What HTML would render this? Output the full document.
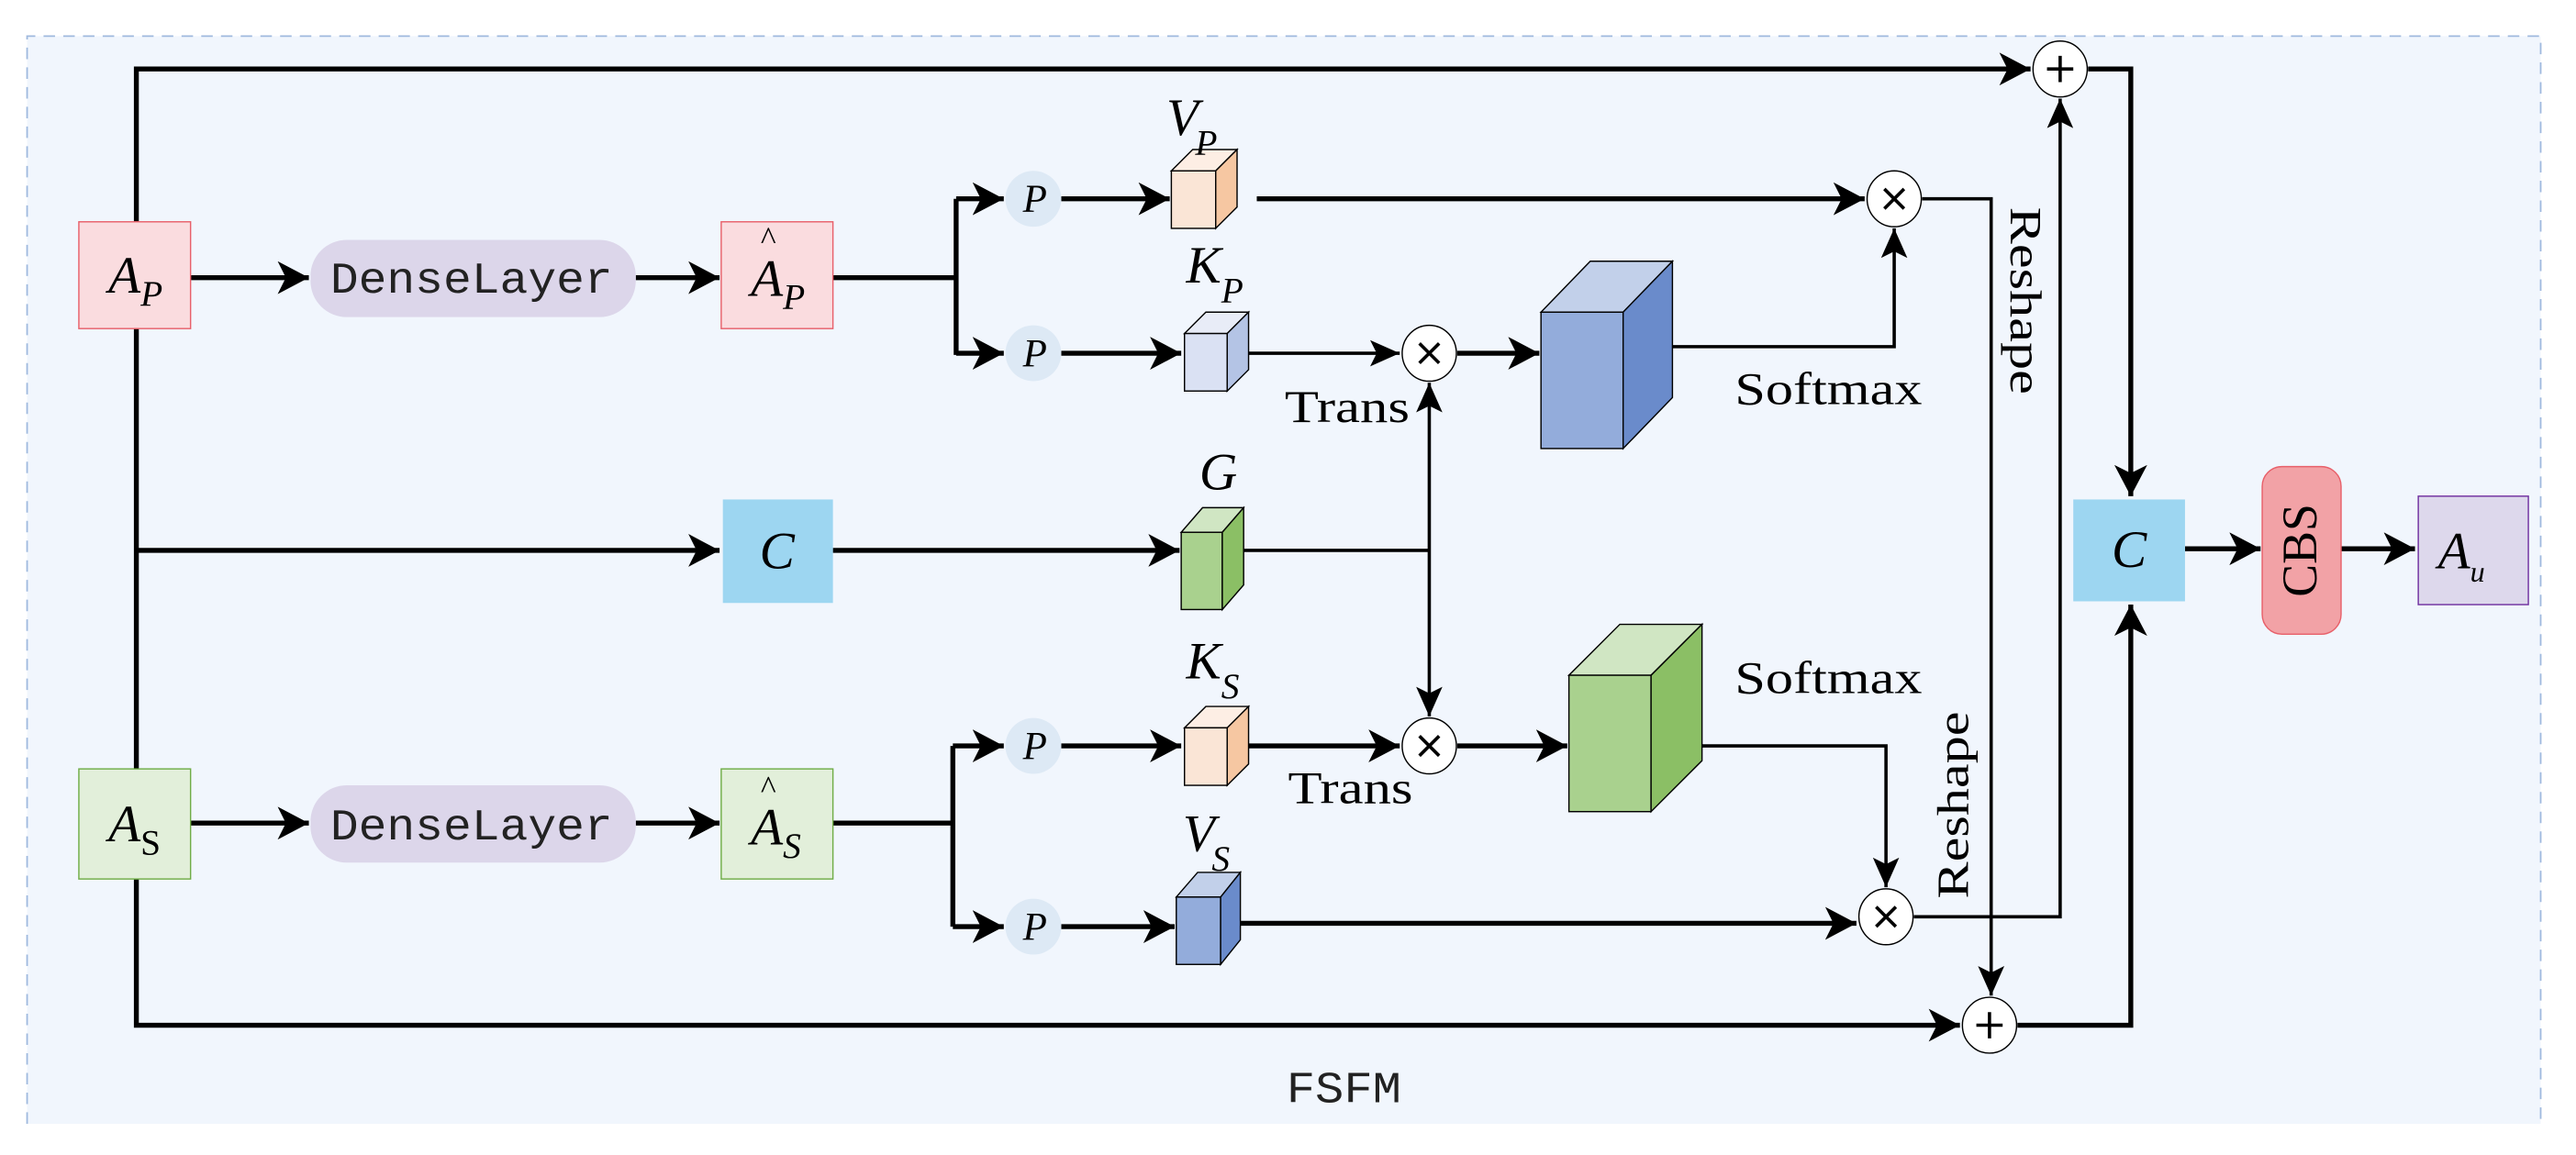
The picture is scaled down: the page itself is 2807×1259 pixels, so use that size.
<!DOCTYPE html>
<html><head><meta charset="utf-8"><style>html,body{margin:0;padding:0;background:#fff}svg{display:block}
.s{font-family:"Liberation Serif","Times New Roman",serif}
.m{font-family:"Liberation Mono","Courier New",monospace}
</style></head>
<body>
<svg xmlns="http://www.w3.org/2000/svg" width="2807" height="1259" viewBox="0 0 1568 703" preserveAspectRatio="none">
<defs>
<marker id="a" markerUnits="userSpaceOnUse" markerWidth="20" markerHeight="20" refX="19" refY="10" orient="auto"><path d="M0,0 L19,10 L0,20 L5,10 z" fill="#000"/></marker>
<marker id="b" markerUnits="userSpaceOnUse" markerWidth="18" markerHeight="16" refX="18" refY="8" orient="auto"><path d="M0,0 L18,8 L0,16 L4,8 z" fill="#000"/></marker>
</defs>
<rect x="0" y="0" width="1568" height="703" fill="#fff"/>
<rect x="16.5" y="22" width="1530" height="662" fill="#f1f6fd"/>
<path d="M16.5,684 V22 H1546.5 V684" fill="none" stroke="#9fb9de" stroke-width="1" stroke-dasharray="7,5"/>

<g fill="none" stroke="#000" stroke-width="3">
<path d="M83,135 V42 H1236" marker-end="url(#a)"/>
<path d="M1271,42 H1297 V302" marker-end="url(#a)"/>
<path d="M83,200 V468"/>
<path d="M83,335 H438" marker-end="url(#a)"/>
<path d="M83,535 V624 H1193" marker-end="url(#a)"/>
<path d="M116,169 H188" marker-end="url(#a)"/>
<path d="M387,169 H438" marker-end="url(#a)"/>
<path d="M116,501 H188" marker-end="url(#a)"/>
<path d="M387,501 H438" marker-end="url(#a)"/>
<path d="M507,169 H582 M582,121 V216"/>
<path d="M582,121 H611" marker-end="url(#a)"/>
<path d="M582,215 H611" marker-end="url(#a)"/>
<path d="M646,121 H712" marker-end="url(#a)"/>
<path d="M646,215 H719" marker-end="url(#a)"/>
<path d="M765,121 H1135" marker-end="url(#a)"/>
<path d="M887,215 H937" marker-end="url(#a)"/>
<path d="M507,335 H718" marker-end="url(#a)"/>
<path d="M507,501 H580 M580,454 V564"/>
<path d="M580,454 H611" marker-end="url(#a)"/>
<path d="M580,564 H611" marker-end="url(#a)"/>
<path d="M646,454 H719" marker-end="url(#a)"/>
<path d="M646,564 H715" marker-end="url(#a)"/>
<path d="M760,454 H852" marker-end="url(#a)"/>
<path d="M887,454 H954" marker-end="url(#a)"/>
<path d="M755,562 H1130" marker-end="url(#a)"/>
<path d="M1228,624 H1297 V368" marker-end="url(#a)"/>
<path d="M1330,334 H1376" marker-end="url(#a)"/>
<path d="M1425,334 H1470" marker-end="url(#a)"/>
</g>
<g fill="none" stroke="#000" stroke-width="2">
<path d="M760,215 H852" marker-end="url(#b)"/>
<path d="M1018,211 H1153 V139" marker-end="url(#b)"/>
<path d="M1170,121 H1212 V606" marker-end="url(#b)"/>
<path d="M757,335 H870"/>
<path d="M870,335 V233" marker-end="url(#b)"/>
<path d="M870,335 V436" marker-end="url(#b)"/>
<path d="M1036,454 H1148 V540" marker-end="url(#b)"/>
<path d="M1165,558 H1254 V60" marker-end="url(#b)"/>
</g>

<g stroke="#000" stroke-width="0.8" fill="#fff">
<ellipse cx="1254" cy="42" rx="16.5" ry="17"/>
<ellipse cx="1211" cy="624" rx="16.5" ry="17"/>
<ellipse cx="1153" cy="121" rx="16.5" ry="17"/>
<ellipse cx="870" cy="215" rx="16.5" ry="17"/>
<ellipse cx="870" cy="454" rx="16.5" ry="17"/>
<ellipse cx="1148" cy="558" rx="16.5" ry="17"/>
</g>
<g stroke="#000" stroke-width="2">
<path d="M1254,34 V50 M1246,42 H1262"/>
<path d="M1211,616 V632 M1203,624 H1219"/>
<path d="M1147,115 L1159,127 M1159,115 L1147,127"/>
<path d="M864,209 L876,221 M876,209 L864,221"/>
<path d="M864,448 L876,460 M876,448 L864,460"/>
<path d="M1142,552 L1154,564 M1154,552 L1142,564"/>
</g>

<g fill="#dde9f5">
<ellipse cx="629" cy="121" rx="17" ry="17"/>
<ellipse cx="629" cy="215" rx="17" ry="17"/>
<ellipse cx="629" cy="454" rx="17" ry="17"/>
<ellipse cx="629" cy="564" rx="17" ry="17"/>
</g>
<g class="s" font-style="italic" font-size="24" text-anchor="middle">
<text x="630" y="129">P</text><text x="630" y="223">P</text><text x="630" y="462">P</text><text x="630" y="572">P</text>
</g>

<rect x="48" y="135" width="68" height="65" fill="#fadcdf" stroke="#e8606a" stroke-width="0.8"/>
<rect x="439" y="135" width="68" height="65" fill="#fadcdf" stroke="#e8606a" stroke-width="0.8"/>
<rect x="48" y="468" width="68" height="67" fill="#e2efda" stroke="#70ad47" stroke-width="0.8"/>
<rect x="439" y="468" width="68" height="67" fill="#e2efda" stroke="#70ad47" stroke-width="0.8"/>
<rect x="189" y="146" width="198" height="47" rx="22" fill="#dcd6ea"/>
<rect x="189" y="478" width="198" height="47" rx="22" fill="#dcd6ea"/>
<rect x="440" y="304" width="67" height="63" fill="#9dd6f1"/>
<rect x="1262" y="304" width="68" height="62" fill="#9dd6f1"/>
<rect x="1377" y="284" width="48" height="102" rx="12" fill="#f2a2a6" stroke="#e8606a" stroke-width="0.8"/>
<rect x="1472" y="302" width="67" height="66" fill="#ddd8ec" stroke="#7030a0" stroke-width="0.8"/>

<g stroke="#000" stroke-width="0.8">
<path d="M713,104 L726,91 L753,91 L740,104 Z" fill="#fdeee4"/><rect x="713" y="104" width="27" height="35" fill="#fae5d6"/><path d="M740,104 L753,91 L753,126 L740,139 Z" fill="#f6c7a2"/>
<path d="M721,203 L734,190 L760,190 L747,203 Z" fill="#e8ecf7"/><rect x="721" y="203" width="26" height="35" fill="#dae1f3"/><path d="M747,203 L760,190 L760,225 L747,238 Z" fill="#b4c4e5"/>
<path d="M719,324 L732,309 L757,309 L744,324 Z" fill="#d0e6c3"/><rect x="719" y="324" width="25" height="47" fill="#a9d18e"/><path d="M744,324 L757,309 L757,356 L744,371 Z" fill="#8bbf65"/>
<path d="M721,443 L734,430 L760,430 L747,443 Z" fill="#fdeee4"/><rect x="721" y="443" width="26" height="35" fill="#fae5d6"/><path d="M747,443 L760,430 L760,465 L747,478 Z" fill="#f6c7a2"/>
<path d="M716,546 L729,531 L755,531 L743,546 Z" fill="#c2d0ea"/><rect x="716" y="546" width="27" height="41" fill="#93acdb"/><path d="M743,546 L755,531 L755,572 L743,587 Z" fill="#6a8bcb"/>
<path d="M938,190 L968,159 L1018,159 L988,190 Z" fill="#c2d0ea"/><rect x="938" y="190" width="50" height="83" fill="#93acdb"/><path d="M988,190 L1018,159 L1018,242 L988,273 Z" fill="#6a8bcb"/>
<path d="M955,411 L986,380 L1036,380 L1005,411 Z" fill="#d0e6c3"/><rect x="955" y="411" width="50" height="83" fill="#a9d18e"/><path d="M1005,411 L1036,380 L1036,463 L1005,494 Z" fill="#8bbf65"/>
</g>

<g class="s" font-style="italic" fill="#000">
<text x="66" y="178" font-size="32">A<tspan font-size="22" dy="8">P</tspan></text>
<text x="457" y="180" font-size="32">A<tspan font-size="22" dy="8">P</tspan></text>
<text x="463" y="152" font-size="20" font-style="normal">^</text>
<text x="66" y="512" font-size="32">A<tspan font-size="22" dy="8" font-style="normal">S</tspan></text>
<text x="457" y="514" font-size="32">A<tspan font-size="22" dy="8">S</tspan></text>
<text x="463" y="486" font-size="20" font-style="normal">^</text>
<text x="473" y="346" font-size="32" text-anchor="middle">C</text>
<text x="1296" y="345" font-size="32" text-anchor="middle">C</text>
<text x="1484" y="346" font-size="32">A<tspan font-size="18" dy="8">u</tspan></text>
<text x="710" y="82" font-size="32">V<tspan font-size="22" dy="12" dx="-2">P</tspan></text>
<text x="722" y="172" font-size="32">K<tspan font-size="22" dy="12">P</tspan></text>
<text x="730" y="298" font-size="32">G</text>
<text x="722" y="413" font-size="32">K<tspan font-size="22" dy="12">S</tspan></text>
<text x="720" y="518" font-size="32">V<tspan font-size="22" dy="12" dx="-2">S</tspan></text>
</g>
<g class="s" fill="#000" font-size="28">
<text x="1056" y="246" textLength="114" lengthAdjust="spacingAndGlyphs">Softmax</text>
<text x="1056" y="422" textLength="114" lengthAdjust="spacingAndGlyphs">Softmax</text>
<text x="782" y="257" textLength="76" lengthAdjust="spacingAndGlyphs">Trans</text>
<text x="784" y="489" textLength="76" lengthAdjust="spacingAndGlyphs">Trans</text>
<text transform="translate(1224,183) rotate(90)" text-anchor="middle" font-size="27" textLength="114" lengthAdjust="spacingAndGlyphs">Reshape</text>
<text transform="translate(1198,490) rotate(-90)" text-anchor="middle" font-size="27" textLength="114" lengthAdjust="spacingAndGlyphs">Reshape</text>
<text transform="translate(1410,335) rotate(-90)" text-anchor="middle" font-size="30">CBS</text>
</g>
<g class="m" fill="#222" font-size="27">
<text x="201" y="178" textLength="172" lengthAdjust="spacingAndGlyphs">DenseLayer</text>
<text x="201" y="511" textLength="172" lengthAdjust="spacingAndGlyphs">DenseLayer</text>
<text x="783" y="671" textLength="70" lengthAdjust="spacingAndGlyphs">FSFM</text>
</g>
</svg>
</body></html>
